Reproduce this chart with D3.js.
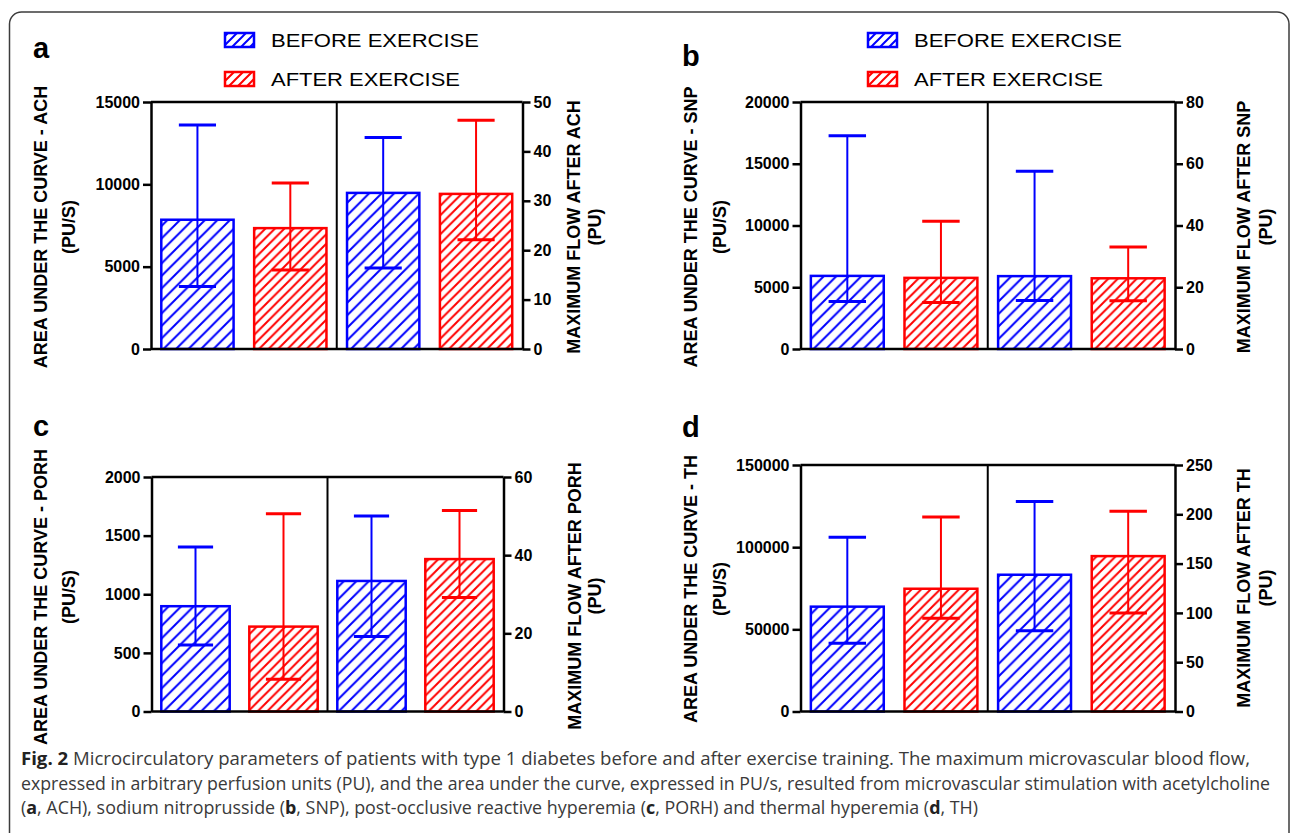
<!DOCTYPE html>
<html lang="en">
<head>
    <meta charset="UTF-8">
    <title>Fig. 2 Microcirculatory parameters</title>
    <script src="https://d3js.org/d3.v7.min.js"></script>
    <style>
        body { margin: 0; background: #fff; }
        .tick text { font-family: "Liberation Sans", Arial, sans-serif; font-weight: bold; font-size: 16px; fill: #000; }
        .axis-title { font-family: "Liberation Sans", Arial, sans-serif; font-weight: bold; font-size: 18px; fill: #000; }
        .legend-text { font-family: "Liberation Sans", Arial, sans-serif; font-size: 19px; fill: #000; }
        .panel-label { font-family: "Liberation Sans", Arial, sans-serif; font-weight: bold; font-size: 29px; fill: #000; }
        .caption { font-family: "Open Sans", sans-serif; font-size: 18px; fill: #3a3a3a; }
    </style>
</head>
<body>
<div id="chart"></div>
<script>
// Groups and panels
const groups = ["BEFORE EXERCISE", "AFTER EXERCISE"];
const panelIds = ["a", "b", "c", "d"];
const stimuli = ["ACH", "SNP", "PORH", "TH"];

// Area under the curve (left axis, PU/s): bar, upper and lower whisker per group
const aucMean  = [[7850, 7340], [5920, 5760], [898, 724], [63800, 74700]];
const aucUpper = [[13600, 10080], [17270, 10350], [1403, 1687], [106100, 118400]];
const aucLower = [[3790, 4790], [3840, 3760], [568, 276], [41500, 56700]];

// Maximum flow (right axis, PU)
const flowMean  = [[31.6, 31.4], [23.6, 22.9], [33.4, 39.0], [138.7, 157.6]];
const flowUpper = [[42.8, 46.3], [57.6, 33.0], [50.0, 51.4], [213, 203]];
const flowLower = [[16.4, 22.1], [15.7, 15.6], [19.2, 29.2], [82, 100]];

// Axis ranges and ticks
const aucMax = [15000, 20000, 2000, 150000];
const aucTicks = [[0, 5000, 10000, 15000], [0, 5000, 10000, 15000, 20000],
                  [0, 500, 1000, 1500, 2000], [0, 50000, 100000, 150000]];
const flowMax = [50, 80, 60, 250];
const flowTicks = [[0, 10, 20, 30, 40, 50], [0, 20, 40, 60, 80],
                   [0, 20, 40, 60], [0, 50, 100, 150, 200, 250]];

const captionLines = [
    [["Fig. 2", true], [" Microcirculatory parameters of patients with type 1 diabetes before and after exercise training. The maximum microvascular blood flow,", false]],
    [["expressed in arbitrary perfusion units (PU), and the area under the curve, expressed in PU/s, resulted from microvascular stimulation with acetylcholine", false]],
    [["(", false], ["a", true], [", ACH), sodium nitroprusside (", false], ["b", true], [", SNP), post-occlusive reactive hyperemia (", false],
     ["c", true], [", PORH) and thermal hyperemia (", false], ["d", true], [", TH)", false]]
];
const captionWidths = [1229, 1249, 957];

const colors = {"BEFORE EXERCISE": "#0000ff", "AFTER EXERCISE": "#ff0000"};

// Panel layout (pixel boxes)
const layout = [
    {left: 151, right: 522.5, top: 102, bottom: 349, labelX: 33, labelY: 58, legend: true, legX: 224,
     lt: [47, 74.5, 227], rt: [580, 601, 227]},
    {left: 800.5, right: 1175, top: 102, bottom: 349, labelX: 682, labelY: 65.5, legend: true, legX: 867,
     lt: [697, 726, 227], rt: [1249.5, 1272, 227]},
    {left: 151.5, right: 503.5, top: 477, bottom: 711.5, labelX: 33, labelY: 436, legend: false,
     lt: [47, 75, 597], rt: [581, 601, 596]},
    {left: 800.5, right: 1175, top: 465, bottom: 711.5, labelX: 682, labelY: 437, legend: false,
     lt: [697, 726, 589], rt: [1249.5, 1272, 588]}
];

const svg = d3.select("#chart").append("svg")
    .attr("width", 1292).attr("height", 833);

svg.append("rect").attr("width", 1292).attr("height", 833).attr("fill", "#fff");

// Hatch patterns
const defs = svg.append("defs");
function hatch(id, color, s) {
    defs.append("pattern")
        .attr("id", id)
        .attr("patternUnits", "userSpaceOnUse")
        .attr("width", s).attr("height", s)
        .append("path")
        .attr("d", `M0,${s} L${s},0 M${-s / 2},${s / 2} L${s / 2},${-s / 2} M${s / 2},${s * 1.5} L${s * 1.5},${s / 2}`)
        .attr("stroke", color)
        .attr("stroke-width", 2);
}
hatch("hatch-0", colors[groups[0]], 12.5);
hatch("hatch-1", colors[groups[1]], 9.5);
hatch("hatch-leg-0", colors[groups[0]], 9);
hatch("hatch-leg-1", colors[groups[1]], 9);

// Outer frame
svg.append("rect")
    .attr("x", 9.5).attr("y", 12)
    .attr("width", 1279.5).attr("height", 900)
    .attr("rx", 12)
    .attr("fill", "none")
    .attr("stroke", "#3c3c3c")
    .attr("stroke-width", 1.5);

panelIds.forEach((pid, p) => {
    const L = layout[p];
    const g = svg.append("g");

    // 4 bars: AUC before/after, then max flow before/after
    const slots = ["auc-0", "auc-1", "flow-0", "flow-1"];
    const x = d3.scaleBand().domain(slots).range([L.left, L.right])
        .paddingInner(0.2).paddingOuter(0.1);
    const yL = d3.scaleLinear().domain([0, aucMax[p]]).range([L.bottom, L.top]);
    const yR = d3.scaleLinear().domain([0, flowMax[p]]).range([L.bottom, L.top]);

    const bars = [];
    groups.forEach((grp, i) => {
        bars.push({slot: "auc-" + i, grp: i, y: yL, mean: aucMean[p][i], up: aucUpper[p][i], lo: aucLower[p][i]});
    });
    groups.forEach((grp, i) => {
        bars.push({slot: "flow-" + i, grp: i, y: yR, mean: flowMean[p][i], up: flowUpper[p][i], lo: flowLower[p][i]});
    });

    const bw = x.bandwidth();
    g.selectAll(".bar").data(bars).enter().append("rect")
        .attr("class", "bar")
        .attr("x", d => x(d.slot) + 1)
        .attr("y", d => d.y(d.mean))
        .attr("width", bw - 2)
        .attr("height", d => L.bottom - d.y(d.mean))
        .attr("fill", d => `url(#hatch-${d.grp})`)
        .attr("stroke", d => colors[groups[d.grp]])
        .attr("stroke-width", 2.5);

    // Error bars
    const eb = g.selectAll(".err").data(bars).enter().append("g")
        .attr("stroke", d => colors[groups[d.grp]]);
    eb.append("line")
        .attr("x1", d => x(d.slot) + bw / 2).attr("x2", d => x(d.slot) + bw / 2)
        .attr("y1", d => d.y(d.up)).attr("y2", d => d.y(d.lo))
        .attr("stroke-width", 2);
    ["up", "lo"].forEach(k => {
        eb.append("line")
            .attr("x1", d => x(d.slot) + bw / 4).attr("x2", d => x(d.slot) + bw * 3 / 4)
            .attr("y1", d => d.y(d[k])).attr("y2", d => d.y(d[k]))
            .attr("stroke-width", 3);
    });

    // Axes
    const axL = g.append("g").attr("transform", `translate(${L.left},0)`)
        .call(d3.axisLeft(yL).tickValues(aucTicks[p]).tickSize(8).tickSizeOuter(0).tickPadding(3).tickFormat(d3.format("d")));
    const axR = g.append("g").attr("transform", `translate(${L.right},0)`)
        .call(d3.axisRight(yR).tickValues(flowTicks[p]).tickSize(8).tickSizeOuter(0).tickPadding(3).tickFormat(d3.format("d")));
    [axL, axR].forEach(ax => {
        ax.select(".domain").attr("stroke", "#000").attr("stroke-width", 2.5);
        ax.selectAll(".tick line").attr("stroke", "#000").attr("stroke-width", 2.5);
    });
    const mid = (x("auc-1") + bw + x("flow-0")) / 2;
    g.append("line").attr("x1", L.left).attr("x2", L.right).attr("y1", L.top).attr("y2", L.top)
        .attr("stroke", "#000").attr("stroke-width", 2.5);
    g.append("line").attr("x1", L.left).attr("x2", L.right).attr("y1", L.bottom).attr("y2", L.bottom)
        .attr("stroke", "#000").attr("stroke-width", 2.5);
    g.append("line").attr("x1", mid).attr("x2", mid).attr("y1", L.top).attr("y2", L.bottom)
        .attr("stroke", "#000").attr("stroke-width", 2);

    // Axis titles
    const titles = [
        [L.lt, "AREA UNDER THE CURVE - " + stimuli[p], "(PU/S)"],
        [L.rt, "MAXIMUM FLOW AFTER " + stimuli[p], "(PU)"]
    ];
    titles.forEach(([pos, t1, t2]) => {
        g.append("text").attr("class", "axis-title")
            .attr("transform", `translate(${pos[0]},${pos[2]}) rotate(-90)`)
            .attr("text-anchor", "middle").text(t1);
        g.append("text").attr("class", "axis-title")
            .attr("transform", `translate(${pos[1]},${pos[2]}) rotate(-90)`)
            .attr("text-anchor", "middle").text(t2);
    });

    // Panel letter
    g.append("text").attr("class", "panel-label")
        .attr("x", L.labelX).attr("y", L.labelY).text(pid);

    // Legend
    if (L.legend) {
        groups.forEach((grp, i) => {
            const ly = 32 + i * 39;
            g.append("rect")
                .attr("x", L.legX + 1).attr("y", ly + 1)
                .attr("width", 29).attr("height", 14)
                .attr("fill", `url(#hatch-leg-${i})`)
                .attr("stroke", colors[grp]).attr("stroke-width", 2.5);
            g.append("text").attr("class", "legend-text")
                .attr("x", L.legX + 47).attr("y", ly + 15)
                .attr("textLength", i === 0 ? 208 : 189)
                .attr("lengthAdjust", "spacingAndGlyphs")
                .text(grp);
        });
    }
});

// Caption
const capY = [765, 789.5, 814];
captionLines.forEach((parts, i) => {
    const t = svg.append("text").attr("class", "caption")
        .attr("x", 21).attr("y", capY[i])
        .attr("textLength", captionWidths[i])
        .attr("lengthAdjust", "spacingAndGlyphs");
    parts.forEach(([s, bold]) => {
        t.append("tspan").attr("font-weight", bold ? "bold" : "normal")
            .attr("fill", bold ? "#222" : null).text(s);
    });
});
</script>
</body>
</html>
